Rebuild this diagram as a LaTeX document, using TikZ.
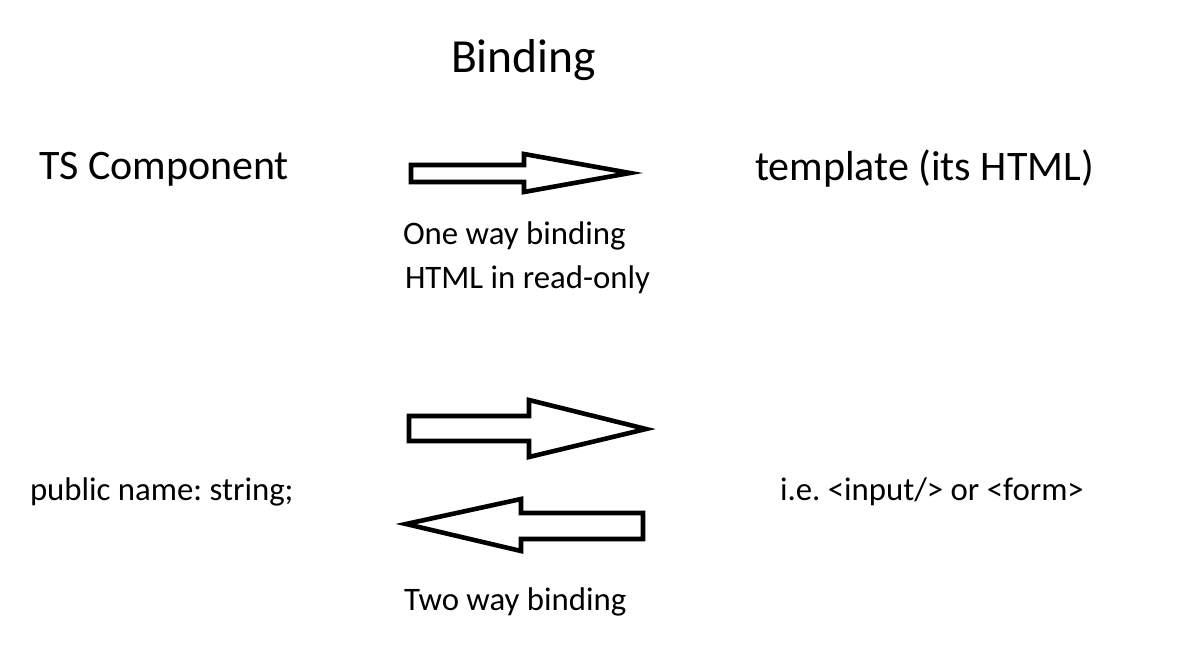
\documentclass[tikz,border=0pt]{standalone}
\usepackage{fontspec}
\setmainfont{Carlito}
\frenchspacing
\begin{document}
\begin{tikzpicture}[x=1pt,y=-1pt,
  lbl/.style={anchor=base west,inner sep=0pt,outer sep=0pt},
  big/.style={lbl,font=\fontsize{42}{42}\selectfont},
  small/.style={lbl,font=\fontsize{32.8}{32.8}\selectfont},
  blockarrow/.style={draw=black,line width=4.6pt,fill=white,line join=miter}]
\useasboundingbox[fill=white] (0,0) rectangle (1189,672);
\node[lbl,font=\fontsize{47.5}{47.5}\selectfont] (title) at (451,72) {Binding};
\node[big] (ts) at (39,179) {TS Component};
\node[big] (tpl) at (755,180) {template (its HTML)};
\node[small] (one) at (403,244) {One way binding};
\node[small] (ro) at (405,288) {HTML in read-only};
\node[small] (pub) at (30,500) {public name: string;};
\node[small] (ie) at (780,500) {i.e. <input/> or <form>};
\node[small] (two) at (404,610) {Two way binding};
% one way arrow
\draw[blockarrow] (411,165) -- (524,165) -- (524,154) -- (630,173) -- (524,192) -- (524,182) -- (411,182) -- cycle;
% two way: right arrow
\draw[blockarrow] (409,416) -- (529,416) -- (529,400) -- (646,429) -- (529,457) -- (529,441) -- (409,441) -- cycle;
% two way: left arrow
\draw[blockarrow] (643,513) -- (521,513) -- (521,499) -- (406,524) -- (521,551) -- (521,539) -- (643,539) -- cycle;
\end{tikzpicture}
\end{document}
